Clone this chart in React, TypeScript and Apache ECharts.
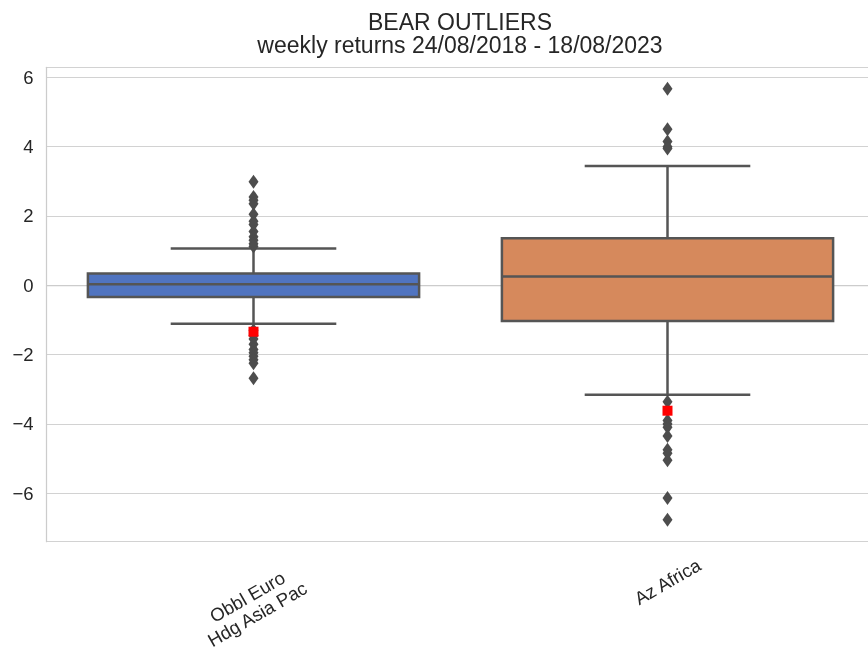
import React, { useEffect, useRef } from "react";
import * as echarts from "echarts";

const categories = ["Obbl Euro\nHdg Asia Pac", "Az Africa"];
const whiskerLow = [-1.11, -3.16];
const quartile1 = [-0.34, -1.03];
const medians = [0.03, 0.25];
const quartile3 = [0.34, 1.36];
const whiskerHigh = [1.06, 3.44];
const outliersObbl = [2.99, 2.55, 2.45, 2.35, 2.05, 1.85, 1.75, 1.55, 1.4, 1.3, 1.2, 1.12, -1.3, -1.45, -1.55, -1.7, -1.85, -1.95, -2.05, -2.15, -2.25, -2.68];
const outliersAz = [5.67, 4.5, 4.15, 4.0, 3.95, -3.36, -3.9, -4.0, -4.1, -4.35, -4.75, -4.85, -5.05, -6.14, -6.77];
const latestValues = [-1.34, -3.62];
const boxColors = ["#5074c0", "#d6895c"];

const LINE = "#555555";
const TEXT = "#262626";
const FONT = "'Liberation Sans', Arial, sans-serif";

export default function App() {
  const ref = useRef<HTMLDivElement>(null);
  useEffect(() => {
    document.body.style.margin = "0";
    const chart = echarts.init(ref.current!, null, { renderer: "svg" });
    const boxData = categories.map((_, i) => [i, whiskerLow[i], quartile1[i], medians[i], quartile3[i], whiskerHigh[i]]);
    const outlierData = [
      ...outliersObbl.map((v) => [0, v]),
      ...outliersAz.map((v) => [1, v]),
    ];
    const latestData = latestValues.map((v, i) => [i, v]);
    chart.setOption({
      animation: false,
      textStyle: { fontFamily: FONT },
      title: {
        text: "BEAR OUTLIERS\nweekly returns 24/08/2018 - 18/08/2023",
        left: 460,
        top: 10,
        padding: 0,
        textAlign: "center",
        textStyle: { fontSize: 23, lineHeight: 23.5, fontWeight: "normal", color: TEXT, fontFamily: FONT },
      },
      grid: { left: 46.5, top: 67.3, width: 828, height: 474.4, containLabel: false, outerBoundsMode: "none" },
      xAxis: {
        type: "category",
        data: [
          {
            value: categories[0],
            textStyle: { align: "center", verticalAlign: "top", lineHeight: 20 },
          },
          { value: categories[1], textStyle: { align: "center", verticalAlign: "middle" } },
        ],
        boundaryGap: true,
        axisLine: { show: true, lineStyle: { color: "#cccccc", width: 1.25 } },
        axisTick: { show: false },
        splitLine: { show: false },
        axisLabel: {
          interval: 0,
          rotate: 30,
          align: "center",
          verticalAlign: "middle",
          margin: 40,
          fontSize: 18.5,
          lineHeight: 22,
          color: TEXT,
          fontFamily: FONT,
          formatter: (v: string, i: number) =>
            i === 0
              ? v
                  .split("\n")
                  .map((s) => `{p|${s}}`)
                  .join("\n")
              : v,
          rich: {
            p: {
              padding: [0, 26, 0, 0],
              fontSize: 18.5,
              lineHeight: 20,
              color: TEXT,
              fontFamily: FONT,
            },
          },
        },
      },
      yAxis: {
        type: "value",
        min: -7.4,
        max: 6.29,
        splitNumber: 7,
        axisLine: { show: true, lineStyle: { color: "#cccccc", width: 1.25 } },
        axisTick: { show: false },
        splitLine: { show: true, lineStyle: { color: "#d2d2d2", width: 1 } },
        axisLabel: {
          showMinLabel: false,
          showMaxLabel: false,
          margin: 13,
          fontSize: 18.5,
          color: TEXT,
          fontFamily: FONT,
          formatter: (v: number) => String(v).replace("-", "\u2212"),
        },
      },
      series: [
        {
          type: "custom",
          data: boxData,
          encode: { x: 0, y: [1, 2, 3, 4, 5] },
          renderItem: (params: any, api: any) => {
            const idx = api.value(0);
            const pLo = api.coord([idx, api.value(1)]);
            const pQ1 = api.coord([idx, api.value(2)]);
            const pMed = api.coord([idx, api.value(3)]);
            const pQ3 = api.coord([idx, api.value(4)]);
            const pHi = api.coord([idx, api.value(5)]);
            const band = api.size([1, 0])[0];
            const bw = band * 0.8;
            const cw = bw / 2;
            const cx = pMed[0];
            const ls = { stroke: LINE, lineWidth: 2.5 };
            return {
              type: "group",
              children: [
                { type: "line", shape: { x1: cx, y1: pQ3[1], x2: cx, y2: pHi[1] }, style: ls },
                { type: "line", shape: { x1: cx, y1: pQ1[1], x2: cx, y2: pLo[1] }, style: ls },
                { type: "line", shape: { x1: cx - cw / 2, y1: pHi[1], x2: cx + cw / 2, y2: pHi[1] }, style: ls },
                { type: "line", shape: { x1: cx - cw / 2, y1: pLo[1], x2: cx + cw / 2, y2: pLo[1] }, style: ls },
                {
                  type: "rect",
                  shape: { x: cx - bw / 2, y: pQ3[1], width: bw, height: pQ1[1] - pQ3[1] },
                  style: { fill: boxColors[idx], stroke: LINE, lineWidth: 2.5 },
                },
                { type: "line", shape: { x1: cx - bw / 2, y1: pMed[1], x2: cx + bw / 2, y2: pMed[1] }, style: ls },
              ],
            };
          },
          z: 2,
        },
        {
          type: "scatter",
          data: outlierData,
          symbol: "diamond",
          symbolSize: [10, 14],
          itemStyle: { color: "#4d4d4d", opacity: 1 },
          z: 3,
        },
        {
          type: "scatter",
          data: latestData,
          symbol: "rect",
          symbolSize: [10, 10],
          itemStyle: { color: "#ff0000", opacity: 1 },
          z: 4,
        },
      ],
    });
    return () => chart.dispose();
  }, []);
  return <div ref={ref} style={{ position: "fixed", left: 0, top: 0, width: 868, height: 650 }} />;
}
